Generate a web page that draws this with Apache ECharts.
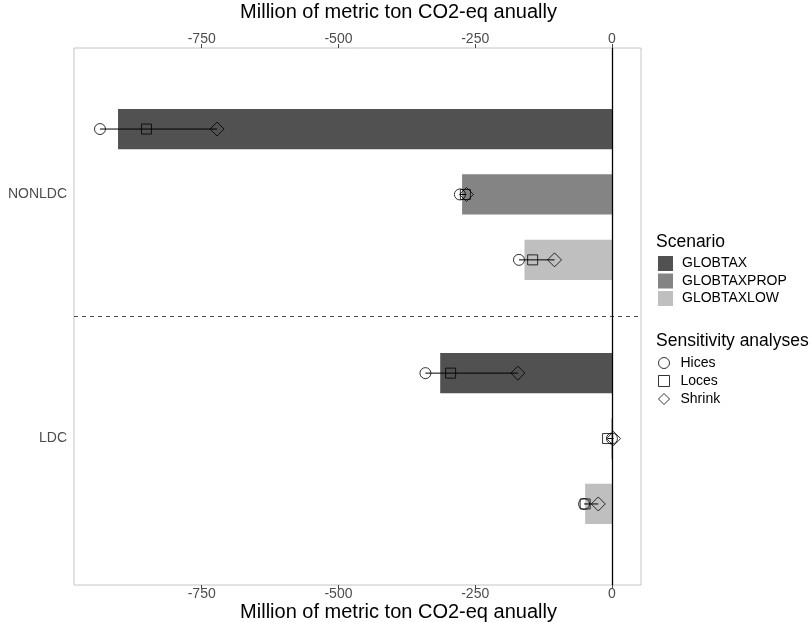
<!DOCTYPE html>
<html>
<head>
<meta charset="utf-8">
<script src="https://cdn.jsdelivr.net/npm/echarts@6/dist/echarts.min.js"></script>
<style>html,body{margin:0;padding:0;background:#fff}#c{width:810px;height:622px}</style>
</head>
<body>
<div id="c"></div>
<script>
// ---- data ----
const categories = ['LDC', 'NONLDC'];
const scenarios = ['GLOBTAX', 'GLOBTAXPROP', 'GLOBTAXLOW'];
const xTicks = [-750, -500, -250, 0];
// bar values (Million t CO2-eq), order: [LDC, NONLDC]
const globtax = [-314, -903];
const globtaxprop = [-1, -274];
const globtaxlow = [-49, -160];
// sensitivity analyses, per scenario, order: [LDC, NONLDC]
const hices = { GLOBTAX: [-341, -936], GLOBTAXPROP: [0, -278], GLOBTAXLOW: [-51, -170] };
const loces = { GLOBTAX: [-295, -851], GLOBTAXPROP: [-8, -268], GLOBTAXLOW: [-49, -145] };
const shrink = { GLOBTAX: [-172, -722], GLOBTAXPROP: [3, -266], GLOBTAXLOW: [-25, -105] };

// ---- layout / style ----
const barValues = { GLOBTAX: globtax, GLOBTAXPROP: globtaxprop, GLOBTAXLOW: globtaxlow };
const dodge = { GLOBTAX: 0.268, GLOBTAXPROP: 0, GLOBTAXLOW: -0.268 };
const colors = { GLOBTAX: '#515151', GLOBTAXPROP: '#848484', GLOBTAXLOW: '#bfbfbf' };
const halfH = 0.0825;
const FONT = "'Liberation Sans', Arial, sans-serif";

const chart = echarts.init(document.getElementById('c'));

const series = [];
scenarios.forEach(s => {
  series.push({
    name: s,
    type: 'custom',
    xAxisIndex: 0, yAxisIndex: 0,
    itemStyle: { color: colors[s] },
    encode: { x: 0, y: 1 },
    data: categories.map((c, i) => [barValues[s][i], i + 1 + dodge[s]]),
    renderItem: function (params, api) {
      const v = api.value(0), y = api.value(1);
      const p0 = api.coord([0, y + halfH]);
      const p1 = api.coord([v, y - halfH]);
      return {
        type: 'rect',
        shape: { x: Math.min(p0[0], p1[0]), y: p0[1], width: Math.abs(p1[0] - p0[0]), height: p1[1] - p0[1] },
        style: { fill: api.visual('color') }
      };
    },
    z: 2
  });
});

// range lines
const rangeData = [];
scenarios.forEach(s => {
  categories.forEach((c, i) => {
    const vals = [hices[s][i], loces[s][i], shrink[s][i]];
    rangeData.push([Math.min(...vals), Math.max(...vals), i + 1 + dodge[s]]);
  });
});
series.push({
  name: 'ranges',
  type: 'custom',
  encode: { x: [0, 1], y: 2 },
  data: rangeData,
  renderItem: function (params, api) {
    const a = api.coord([api.value(0), api.value(2)]);
    const b = api.coord([api.value(1), api.value(2)]);
    return { type: 'line', shape: { x1: a[0], y1: a[1], x2: b[0], y2: b[1] }, style: { stroke: '#000', lineWidth: 1 } };
  },
  z: 4,
  markLine: {
    silent: true, symbol: 'none', label: { show: false },
    data: [
      { yAxis: 1.5, lineStyle: { color: '#4a4a4a', width: 1, type: [4, 4] } },
      { xAxis: 0, lineStyle: { color: '#000', width: 1.3, type: 'solid' } }
    ]
  }
});

function pts(obj) {
  const out = [];
  scenarios.forEach(s => categories.forEach((c, i) => out.push([obj[s][i], i + 1 + dodge[s]])));
  return out;
}
const symStyle = { color: 'rgba(0,0,0,0)', borderColor: '#000', borderWidth: 1 };
series.push({ name: 'Hices', type: 'scatter', symbol: 'circle', symbolSize: 11, itemStyle: symStyle, data: pts(hices), z: 5 });
series.push({ name: 'Loces', type: 'scatter', symbol: 'rect', symbolSize: 10, itemStyle: symStyle, data: pts(loces), z: 5 });
series.push({ name: 'Shrink', type: 'scatter', symbol: 'diamond', symbolSize: 14, itemStyle: symStyle, data: pts(shrink), z: 5 });

const xAxisCommon = {
  type: 'value', min: -983.5, max: 53.1,
  splitLine: { show: false },
  axisLine: { show: false },
  axisTick: { show: true, customValues: xTicks, length: 4, lineStyle: { color: '#444' } },
  axisLabel: { customValues: xTicks, color: '#4d4d4d', fontSize: 14, fontFamily: FONT },
  name: 'Million of metric ton CO2-eq anually',
  nameLocation: 'middle',
  nameMoveOverlap: false,
  nameTextStyle: { color: '#000', fontSize: 20, fontFamily: FONT, padding: [0, 0, 0, 82] }
};

chart.setOption({
  animation: false,
  backgroundColor: '#fff',
  textStyle: { fontFamily: FONT },
  grid: { left: 74, right: 169, top: 48, bottom: 37, outerBoundsMode: 'none', containLabel: false, show: true, borderColor: '#c4c4c4', borderWidth: 1, backgroundColor: '#fff' },
  title: [
    { text: 'Scenario', left: 656, top: 233, textStyle: { fontSize: 17.5, fontWeight: 'normal', color: '#000', fontFamily: FONT }, padding: 0 },
    { text: 'Sensitivity analyses', left: 656, top: 332, textStyle: { fontSize: 17.5, fontWeight: 'normal', color: '#000', fontFamily: FONT }, padding: 0 }
  ],
  legend: [
    {
      data: scenarios, orient: 'vertical', left: 658, top: 256, padding: 0,
      itemWidth: 15, itemHeight: 15, itemGap: 2.5, icon: 'rect',
      textStyle: { fontSize: 14, color: '#000', fontFamily: FONT, lineHeight: 15, padding: [0, 0, 0, 4] },
      selectedMode: false
    },
    {
      data: ['Hices', 'Loces', 'Shrink'], orient: 'vertical', left: 658, top: 356, padding: 0,
      itemWidth: 11, itemHeight: 11, itemGap: 4,
      itemStyle: { borderWidth: 1, borderColor: '#000', color: 'rgba(0,0,0,0)' },
      textStyle: { fontSize: 14, color: '#000', fontFamily: FONT, lineHeight: 11, padding: [0, 0, 0, 6] },
      selectedMode: false
    }
  ],
  xAxis: [
    Object.assign({}, xAxisCommon, { position: 'bottom', nameGap: 17, axisLabel: Object.assign({}, xAxisCommon.axisLabel, { margin: 2 }) }),
    Object.assign({}, xAxisCommon, { position: 'top', nameGap: 26, axisLabel: Object.assign({}, xAxisCommon.axisLabel, { margin: 2 }) })
  ],
  yAxis: {
    type: 'value', min: 0.4, max: 2.6,
    splitLine: { show: false },
    axisLine: { show: false },
    axisTick: { show: true, customValues: [1, 2], length: 4, lineStyle: { color: '#444' } },
    axisLabel: { customValues: [1, 2], formatter: v => categories[Math.round(v) - 1], color: '#4d4d4d', fontSize: 14, fontFamily: FONT, margin: 7 }
  },
  series: series
});
</script>
</body>
</html>
